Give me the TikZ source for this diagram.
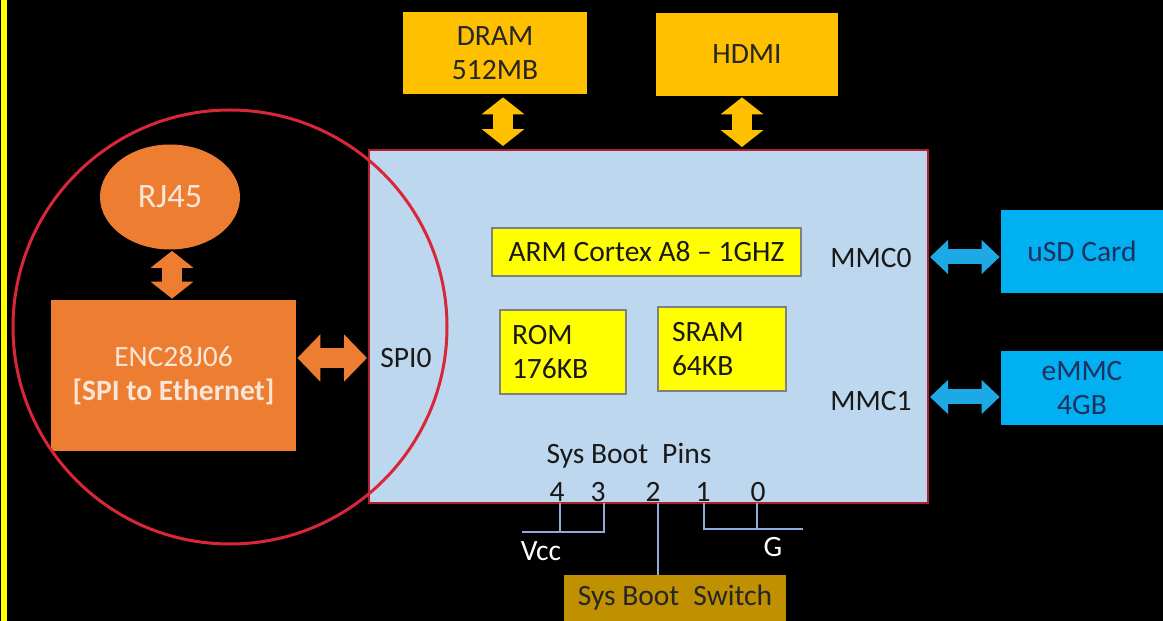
\documentclass[tikz,border=0pt]{standalone}
\usepackage{fontspec}
\setmainfont{Carlito}
\usetikzlibrary{arrows.meta, positioning, shapes.geometric}

\newlength\pxl
\setlength\pxl{0.02cm}

\definecolor{socblue}{HTML}{BDD7EE}
\definecolor{socred}{HTML}{B0202C}
\definecolor{ringred}{HTML}{D92638}
\definecolor{gold}{HTML}{FFC000}
\definecolor{ethorange}{HTML}{ED7D31}
\definecolor{cream}{HTML}{FBE5D6}
\definecolor{memyellow}{HTML}{FFFF00}
\definecolor{cardblue}{HTML}{00B0F0}
\definecolor{busblue}{HTML}{1CA9E6}
\definecolor{navy}{HTML}{1F3060}
\definecolor{pinsteel}{HTML}{8FAADC}
\definecolor{switchgold}{HTML}{BF9000}

\begin{document}
\begin{tikzpicture}[
        x=\pxl, y=-\pxl,
        every node/.style={
            font=\fontsize{16.8}{19.5}\selectfont,
            inner sep=0pt
        },
        soc/.style={
            rectangle,
            draw=socred,
            line width=2\pxl,
            fill=socblue,
            minimum width=559\pxl,
            minimum height=353\pxl
        },
        extbox/.style={
            rectangle,
            fill=gold,
            text=black!85,
            align=center
        },
        membox/.style={
            rectangle,
            draw=black!50,
            line width=1.5\pxl,
            fill=memyellow,
            text=black!90
        },
        cardbox/.style={
            rectangle,
            fill=cardblue,
            text=navy,
            align=center,
            minimum width=162\pxl
        },
        ethbox/.style={
            fill=ethorange,
            text=cream,
            align=center
        },
        label/.style={
            text=black!90
        },
        bus/.style={
            line width=0.4cm,
            {Triangle[length=0.34cm, width=0.84cm]}-{Triangle[length=0.34cm, width=0.84cm]}
        },
        widebus/.style={
            line width=0.4cm,
            {Triangle[length=0.46cm, width=0.92cm]}-{Triangle[length=0.46cm, width=0.92cm]}
        },
        thinbus/.style={
            line width=0.3cm,
            {Triangle[length=0.36cm, width=0.66cm]}-{Triangle[length=0.36cm, width=0.66cm]}
        },
        pinline/.style={
            draw=pinsteel,
            line width=1.5\pxl
        }
    ]
    % page and left edge
    \fill[black] (0,0) rectangle (1163,621);
    \useasboundingbox (0,0) rectangle (1163,621);
    \fill[memyellow] (1,0) rectangle (6.5,621);

    % processor
    \node[soc] (soc) at (648.5,326.5) {};
    \node[membox, minimum width=309\pxl, minimum height=48\pxl] (arm) at (646.5,252) {ARM Cortex A8 -- 1GHZ};
    \node[membox, minimum width=126\pxl, minimum height=84\pxl, align=left, text width=102\pxl] (rom) at (563,352) {ROM\\176KB};
    \node[membox, minimum width=128\pxl, minimum height=84\pxl, align=left, text width=100\pxl] (sram) at (722,349) {SRAM\\64KB};

    \node[label] (spi) at (406,358) {SPI0};
    \node[label] (mmc0) at (871,258) {MMC0};
    \node[label] (mmc1) at (871,401) {MMC1};
    \node[label] (bootpins) at (629,456) {Sys Boot\hspace{0.25em} Pins};

    % outside parts
    \node[extbox, minimum width=184\pxl, minimum height=82\pxl] (dram) at (495,53) {DRAM\\512MB};
    \node[extbox, minimum width=182\pxl, minimum height=83\pxl] (hdmi) at (747,54.5) {HDMI};
    \node[cardbox, minimum height=83\pxl] (usd) at (1082,251.5) {uSD Card};
    \node[cardbox, minimum height=74\pxl] (emmc) at (1082,388) {eMMC\\4GB};
    \node[extbox, fill=switchgold, minimum width=222\pxl, minimum height=46\pxl] (switch) at (675,598) {Sys Boot\hspace{0.25em} Switch};

    % ethernet
    \node[ellipse, ethbox, minimum width=140\pxl, minimum height=105\pxl, font=\fontsize{19.5}{22}\selectfont] (rj45) at (170,197) {RJ45};
    \node[ethbox, minimum width=245\pxl, minimum height=151\pxl] (enc) at (173.5,375.5) {ENC28J06\\\textbf{[SPI to Ethernet]}};

    % buses
    \draw[bus, gold, shorten >=0.06cm, shorten <=0.06cm] ([xshift=0.16cm]dram.south) -- ([xshift=0.16cm]dram.south |- soc.north);
    \draw[bus, gold, shorten >=0.04cm, shorten <=0.02cm] ([xshift=-0.1cm]hdmi.south) -- ([xshift=-0.1cm]hdmi.south |- soc.north);
    \draw[bus, ethorange, shorten >=0.02cm, shorten <=0.02cm] ([xshift=0.04cm]rj45.south) -- ([xshift=0.04cm]rj45.south |- enc.north);
    \draw[widebus, ethorange, shorten >=0.02cm, shorten <=0.02cm] ([yshift=0.35cm]enc.east) -- ([yshift=0.35cm]enc.east -| soc.west);
    \draw[thinbus, busblue, shorten >=0.02cm, shorten <=0.02cm] ([yshift=-0.11cm]usd.west -| soc.east) -- ([yshift=-0.11cm]usd.west);
    \draw[thinbus, busblue, shorten >=0.02cm, shorten <=0.02cm] ([yshift=-0.18cm]emmc.west -| soc.east) -- ([yshift=-0.18cm]emmc.west);

    % boot pins
    \foreach \n/\x/\lx in {4/557/560, 3/598/604, 2/653/658, 1/703/704, 0/758/757} {
        \node[label] (pin\n) at (\x,492) {\n};
        \coordinate (p\n) at (\lx,503);
    }
    \coordinate (vccend) at (522,532);
    \coordinate (gndend) at (803,529);
    \draw[pinline] (p4) -- (p4 |- vccend);
    \draw[pinline] (vccend) -- (p3 |- vccend) -- (p3);
    \draw[pinline] (p1) -- (p1 |- gndend) -- (gndend);
    \draw[pinline] (p0) -- (p0 |- gndend);
    \draw[pinline] (p2) -- (p2 |- switch.north);
    \node[text=white] (vcc) at (541,551) {Vcc};
    \node[text=white] (gnd) at (773,547) {G};

    % ring round the ethernet part
    \node[circle, draw=ringred, line width=3\pxl, minimum size=434\pxl] (ring) at (230,327) {};
\end{tikzpicture}
\end{document}
